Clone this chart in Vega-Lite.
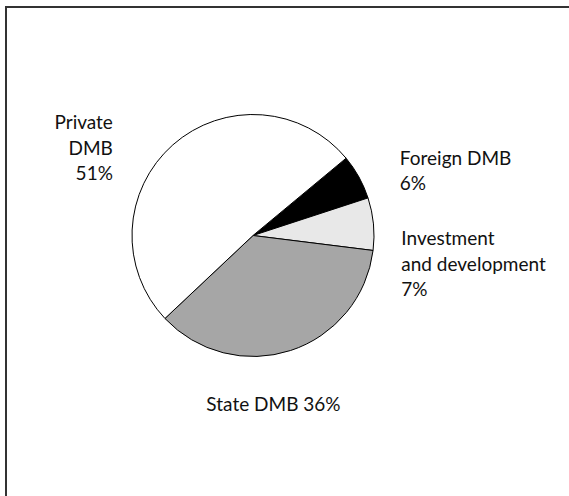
{
  "$schema": "https://vega.github.io/schema/vega-lite/v6.json",
  "width": 563,
  "height": 489,
  "autosize": "none",
  "padding": {"left": 6, "top": 7, "right": 0, "bottom": 0},
  "background": "white",
  "view": {"stroke": "#333333", "strokeWidth": 2, "strokeDash": [563, 1052, 489], "fill": "white"},
  "config": {
    "text": {"font": "Lato", "fontSize": 19, "fill": "#111111", "lineHeight": 25.5}
  },
  "data": {
    "values": [
      {"category": "Foreign DMB", "share": 6, "order": 1, "label": "Foreign DMB\n6%"},
      {"category": "Investment and development", "share": 7, "order": 2, "label": "Investment\nand development\n7%"},
      {"category": "State DMB", "share": 36, "order": 3, "label": "State DMB 36%"},
      {"category": "Private DMB", "share": 51, "order": 4, "label": "Private\nDMB\n51%"}
    ]
  },
  "encoding": {
    "theta": {"field": "share", "type": "quantitative", "stack": true, "scale": {"range": [0.878, 7.161]}},
    "order": {"field": "order", "type": "quantitative"}
  },
  "layer": [
    {
      "mark": {"type": "arc", "x": 247, "y": 228.5, "outerRadius": 121, "stroke": "black", "strokeWidth": 1},
      "encoding": {
        "color": {
          "field": "category", "type": "nominal", "legend": null,
          "scale": {"domain": ["Foreign DMB", "Investment and development", "State DMB", "Private DMB"], "range": ["#000000", "#e8e8e8", "#a6a6a6", "#ffffff"]}
        }
      }
    },
    {
      "mark": {"type": "text", "x": 247, "y": 228.5, "radius": 146, "dx": 19, "align": "left", "baseline": "alphabetic", "lineBreak": "\n"},
      "encoding": {"text": {"condition": {"test": "datum.category == 'Foreign DMB'", "field": "label"}, "value": ""}}
    },
    {
      "mark": {"type": "text", "x": 247, "y": 228.5, "radius": 149, "dy": 24, "align": "left", "baseline": "alphabetic", "lineBreak": "\n"},
      "encoding": {"text": {"condition": {"test": "datum.category == 'Investment and development'", "field": "label"}, "value": ""}}
    },
    {
      "mark": {"type": "text", "x": 247, "y": 228.5, "radius": 185, "dx": -37, "align": "center", "baseline": "alphabetic", "lineBreak": "\n"},
      "encoding": {"text": {"condition": {"test": "datum.category == 'State DMB'", "field": "label"}, "value": ""}}
    },
    {
      "mark": {"type": "text", "x": 247, "y": 228.5, "radius": 142, "dx": -46, "align": "right", "baseline": "alphabetic", "lineBreak": "\n"},
      "encoding": {"text": {"condition": {"test": "datum.category == 'Private DMB'", "field": "label"}, "value": ""}}
    }
  ]
}
